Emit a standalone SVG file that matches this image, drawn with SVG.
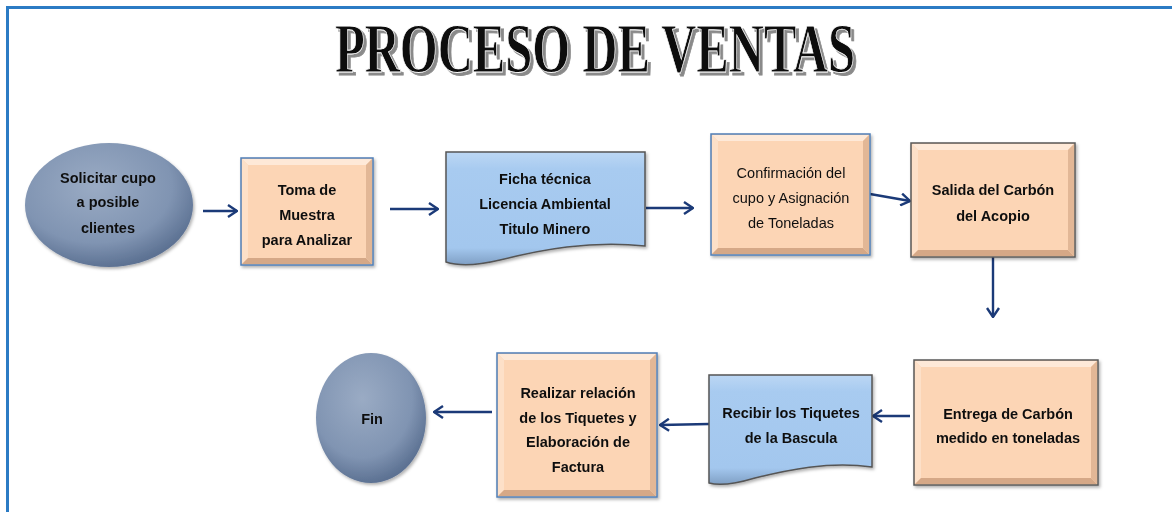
<svg xmlns="http://www.w3.org/2000/svg" width="1172" height="512" viewBox="0 0 1172 512">
<defs>
<style>
.lbl{font-family:"Liberation Sans",Arial,sans-serif;font-size:14.5px;font-weight:bold;fill:#111;text-anchor:middle}
.reg{font-weight:normal}
.box{fill:#fcd5b5}
.bb{stroke:#4f7fb8;stroke-width:1.5}
.bg{stroke:#5a5a5a;stroke-width:1.5}
.lt{fill:#fee9d8}
.lt2{fill:#fde0c8}
.dk{fill:#d5a887}
.dk2{fill:#e2b796}
.doc{fill:url(#gDoc);stroke:#555;stroke-width:1.5}
.ell{fill:url(#gEll)}
.con{fill:none;stroke:#1b3a78;stroke-width:2.4;marker-end:url(#ah)}
.ttl{font-family:"Liberation Serif","Times New Roman",serif;font-weight:bold;font-size:70px}
</style>
<marker id="ah" viewBox="0 0 11 14" refX="10" refY="7" markerWidth="11" markerHeight="14" markerUnits="userSpaceOnUse" orient="auto">
<path d="M1,1 L10,7 L1,13" fill="none" stroke="#1b3a78" stroke-width="2.4"/>
</marker>
<radialGradient id="gEll" cx="0.42" cy="0.35" r="0.65">
<stop offset="0" stop-color="#9aabc4"/>
<stop offset="0.7" stop-color="#8094b2"/>
<stop offset="1" stop-color="#5d7293"/>
</radialGradient>
<linearGradient id="gDoc" x1="0" y1="0" x2="0" y2="1">
<stop offset="0" stop-color="#bcd7f4"/>
<stop offset="0.15" stop-color="#a8cbf0"/>
<stop offset="0.85" stop-color="#a3c7ee"/>
<stop offset="1" stop-color="#7f9fc4"/>
</linearGradient>
<filter id="sh" x="-10%" y="-10%" width="125%" height="125%">
<feDropShadow dx="1.5" dy="2" stdDeviation="1.5" flood-color="#000" flood-opacity="0.3"/>
</filter>
<filter id="tsh" x="-5%" y="-20%" width="110%" height="140%">
<feDropShadow dx="3" dy="3" stdDeviation="0.6" flood-color="#8a8a8a" flood-opacity="1"/>
</filter>
</defs>
<rect width="1172" height="512" fill="#fff"/>
<path d="M7.5,512 V7.5 H1172" fill="none" stroke="#2b7bc4" stroke-width="3"/>

<g id="title">
<text class="ttl" x="335" y="72" textLength="520" lengthAdjust="spacingAndGlyphs" fill="#111" stroke="#fff" stroke-width="0.8" filter="url(#tsh)">PROCESO DE VENTAS</text>
</g>

<g id="connectors">
<line class="con" x1="203" y1="211" x2="237" y2="211"/>
<line class="con" x1="390" y1="209" x2="438" y2="209"/>
<line class="con" x1="646" y1="208" x2="693" y2="208"/>
<line class="con" x1="870" y1="194" x2="910" y2="201"/>
<line class="con" x1="993" y1="257" x2="993" y2="317"/>
<line class="con" x1="910" y1="416" x2="873" y2="416"/>
<line class="con" x1="709" y1="424" x2="660" y2="425"/>
<line class="con" x1="492" y1="412" x2="434" y2="412"/>
</g>

<g id="n1" filter="url(#sh)">
<ellipse class="ell" cx="109" cy="205" rx="84" ry="62"/>
<text class="lbl" x="108" y="183">Solicitar cupo</text>
<text class="lbl" x="108" y="207">a  posible</text>
<text class="lbl" x="108" y="233">clientes</text>
</g>

<g id="n2" filter="url(#sh)">
<rect class="box bb" x="241" y="158" width="132" height="107"/>
<polygon class="lt" points="242,159 372,159 366,165 248,165"/>
<polygon class="lt2" points="242,159 248,165 248,258 242,264"/>
<polygon class="dk" points="242,264 248,258 366,258 372,264"/>
<polygon class="dk2" points="372,159 372,264 366,258 366,165"/>
<text class="lbl" x="307" y="195">Toma de</text>
<text class="lbl" x="307" y="220">Muestra</text>
<text class="lbl" x="307" y="245">para Analizar</text>
</g>

<g id="n3" filter="url(#sh)">
<path class="doc" d="M446,152 H645 V246 C590,240 540,250 500,260 C475,266 458,266 446,262 Z"/>
<text class="lbl" x="545" y="184">Ficha técnica</text>
<text class="lbl" x="545" y="209">Licencia Ambiental</text>
<text class="lbl" x="545" y="234">Titulo Minero</text>
</g>

<g id="n4" filter="url(#sh)">
<rect class="box bb" x="711" y="134" width="159" height="121"/>
<polygon class="lt" points="712,135 869,135 863,141 718,141"/>
<polygon class="lt2" points="712,135 718,141 718,248 712,254"/>
<polygon class="dk" points="712,254 718,248 863,248 869,254"/>
<polygon class="dk2" points="869,135 869,254 863,248 863,141"/>
<text class="lbl reg" x="791" y="178">Confirmación del</text>
<text class="lbl reg" x="791" y="203">cupo  y Asignación</text>
<text class="lbl reg" x="791" y="228">de  Toneladas</text>
</g>

<g id="n5" filter="url(#sh)">
<rect class="box bg" x="911" y="143" width="164" height="114"/>
<polygon class="lt" points="912,144 1074,144 1068,150 918,150"/>
<polygon class="lt2" points="912,144 918,150 918,250 912,256"/>
<polygon class="dk" points="912,256 918,250 1068,250 1074,256"/>
<polygon class="dk2" points="1074,144 1074,256 1068,250 1068,150"/>
<text class="lbl" x="993" y="195">Salida  del Carbón</text>
<text class="lbl" x="993" y="221">del Acopio</text>
</g>

<g id="n6" filter="url(#sh)">
<rect class="box bg" x="914" y="360" width="184" height="125"/>
<polygon class="lt" points="915,361 1097,361 1091,367 921,367"/>
<polygon class="lt2" points="915,361 921,367 921,478 915,484"/>
<polygon class="dk" points="915,484 921,478 1091,478 1097,484"/>
<polygon class="dk2" points="1097,361 1097,484 1091,478 1091,367"/>
<text class="lbl" x="1008" y="419">Entrega  de  Carbón</text>
<text class="lbl" x="1008" y="443">medido en toneladas</text>
</g>

<g id="n7" filter="url(#sh)">
<path class="doc" d="M709,375 H872 V467 C828,461 788,470 755,478 C735,484 720,486 709,483 Z"/>
<text class="lbl" x="791" y="418">Recibir los Tiquetes</text>
<text class="lbl" x="791" y="443">de la Bascula</text>
</g>

<g id="n8" filter="url(#sh)">
<rect class="box bb" x="497" y="353" width="160" height="144"/>
<polygon class="lt" points="498,354 656,354 650,360 504,360"/>
<polygon class="lt2" points="498,354 504,360 504,490 498,496"/>
<polygon class="dk" points="498,496 504,490 650,490 656,496"/>
<polygon class="dk2" points="656,354 656,496 650,490 650,360"/>
<text class="lbl" x="578" y="398">Realizar  relación</text>
<text class="lbl" x="578" y="423">de los Tiquetes  y</text>
<text class="lbl" x="578" y="447">Elaboración  de</text>
<text class="lbl" x="578" y="472">Factura</text>
</g>

<g id="n9" filter="url(#sh)">
<ellipse class="ell" cx="371" cy="418" rx="55" ry="65"/>
<text class="lbl" x="372" y="424">Fin</text>
</g>
</svg>
